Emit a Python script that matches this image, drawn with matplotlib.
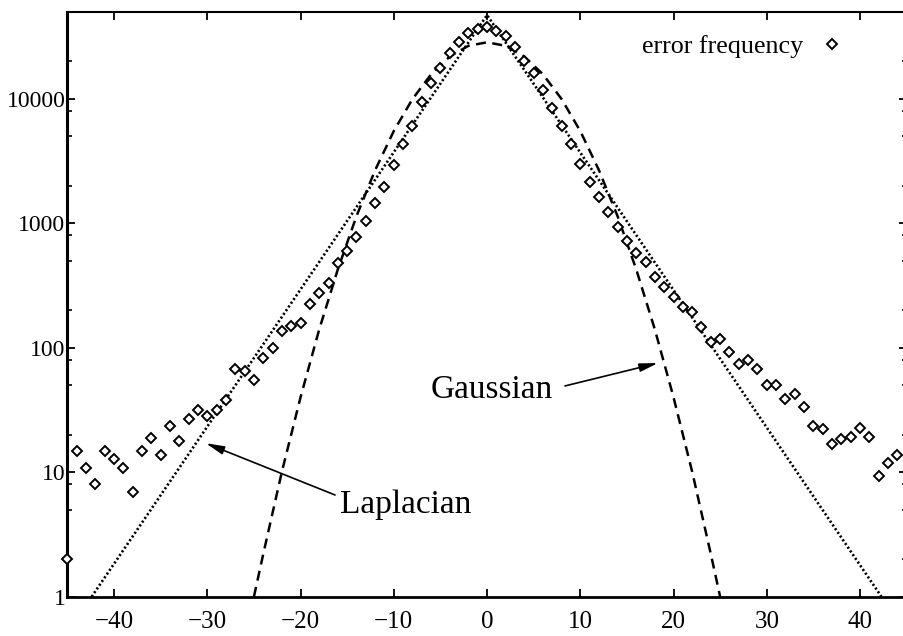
import matplotlib
matplotlib.use("Agg")
import matplotlib.pyplot as plt
from matplotlib.ticker import FixedLocator, LogLocator, NullFormatter, FuncFormatter

plt.rcParams["font.family"] = ["Liberation Serif", "DejaVu Serif"]

# observed prediction error histogram (counts per integer error value)
err_x = list(range(-45, 45))
err_count = [
    2, 14.8, 10.9, 8.0, 14.8, 12.8, 10.9, 6.9, 14.8, 18.9,          # -45 .. -36
    13.7, 23.6, 17.8, 26.7, 31.8, 28.4, 31.4, 37.8, 67, 65,         # -35 .. -26
    55, 82, 100, 135, 150, 159, 223, 274, 331, 476,                 # -25 .. -16
    598, 780, 1035, 1445, 1965, 2910, 4300, 6060, 9350, 13300,      # -15 .. -6
    17500, 23200, 28700, 33500, 36000, 37900, 35100, 31700, 26200, 20200,  # -5 .. 4
    16000, 11700, 8370, 6000, 4300, 2970, 2140, 1615, 1224, 927,    # 5 .. 14
    720, 580, 491, 372, 309, 257, 213, 192, 146, 112,               # 15 .. 24
    117, 92, 74, 79, 67, 50, 50, 39, 42.5, 33.6,                    # 25 .. 34
    23.5, 22.2, 16.7, 18.5, 19.3, 22.5, 19.3, 9.4, 11.9, 13.7,      # 35 .. 44
]

# fitted Laplacian (straight on a log axis)
lap_x = [-42.4, 0, 42.3]
lap_y = [1, 47000, 1]

# fitted Gaussian
gau_x = [-25, -24, -22, -20, -18, -16, -14, -12, -10, -8, -6, -4, -2,
         0, 2, 4, 6, 8, 10, 12, 14, 16, 18, 20, 22, 24, 25]
gau_y = [1, 2.2, 10.1, 40, 140, 426, 1140, 2670, 5500, 9930, 15700, 21800, 26600,
         28400, 26600, 21800, 15700, 9930, 5500, 2670, 1140, 426, 140, 40, 10.1, 2.2, 1]

x_ticks = [-40, -30, -20, -10, 0, 10, 20, 30, 40]
y_ticks = [1, 10, 100, 1000, 10000]

fig = plt.figure(figsize=(9.04, 6.36), dpi=100)
ax = fig.add_axes([0.0746, 0.0618, 0.9283, 0.9198])

ax.plot(lap_x, lap_y, color="black", lw=1.9, linestyle=(0, (0.8, 0.9)))
ax.plot(gau_x, gau_y, color="black", lw=1.8, linestyle=(0, (4, 2.6)))
ax.plot(err_x, err_count, linestyle="none", marker="D", ms=4.8,
        mfc="white", mec="black", mew=1.4, clip_on=False, zorder=3,
        label="error frequency")

ax.set_yscale("log")
ax.set_xlim(-45, 45)
ax.set_ylim(1, 50000)

ax.xaxis.set_major_locator(FixedLocator(x_ticks))
ax.yaxis.set_major_locator(FixedLocator(y_ticks))
ax.yaxis.set_minor_locator(LogLocator(base=10, subs=(2, 5, 8)))
ax.yaxis.set_major_formatter(FuncFormatter(lambda v, _: f"{v:g}"))
ax.yaxis.set_minor_formatter(NullFormatter())

ax.tick_params(which="both", direction="in", top=True, right=True, colors="black")
ax.tick_params(which="major", length=6, width=1.3, labelsize=17)
ax.tick_params(which="minor", length=3.5, width=1.2)
ax.tick_params(axis="x", which="major", pad=10.5, labelsize=18)
ax.tick_params(axis="y", which="major", pad=1.5)

ax.spines["left"].set_linewidth(2.2)
ax.spines["bottom"].set_linewidth(2.0)
ax.spines["top"].set_linewidth(1.5)
ax.spines["right"].set_linewidth(1.5)

# curve labels with pointer arrows
ax.text(0.54, 39.5, "Gaussian", fontsize=24, ha="center", va="baseline")
ax.annotate("", xy=(18.34, 75.3), xytext=(8.36, 49.3),
            arrowprops=dict(arrowstyle="-|>,head_length=1.1,head_width=0.25",
                            color="black", lw=1.2, shrinkA=0, shrinkB=0))
ax.text(-8.74, 4.68, "Laplacian", fontsize=24, ha="center", va="baseline")
ax.annotate("", xy=(-30.17, 17.1), xytext=(-16.3, 6.56),
            arrowprops=dict(arrowstyle="-|>,head_length=1.1,head_width=0.25",
                            color="black", lw=1.2, shrinkA=0, shrinkB=0))

ax.legend(loc="upper right", bbox_to_anchor=(0.936, 0.978), frameon=False,
          markerfirst=False, handlelength=0.8, handletextpad=0.7,
          fontsize=18.8, borderaxespad=0)

fig.savefig("out.png", dpi=100)
